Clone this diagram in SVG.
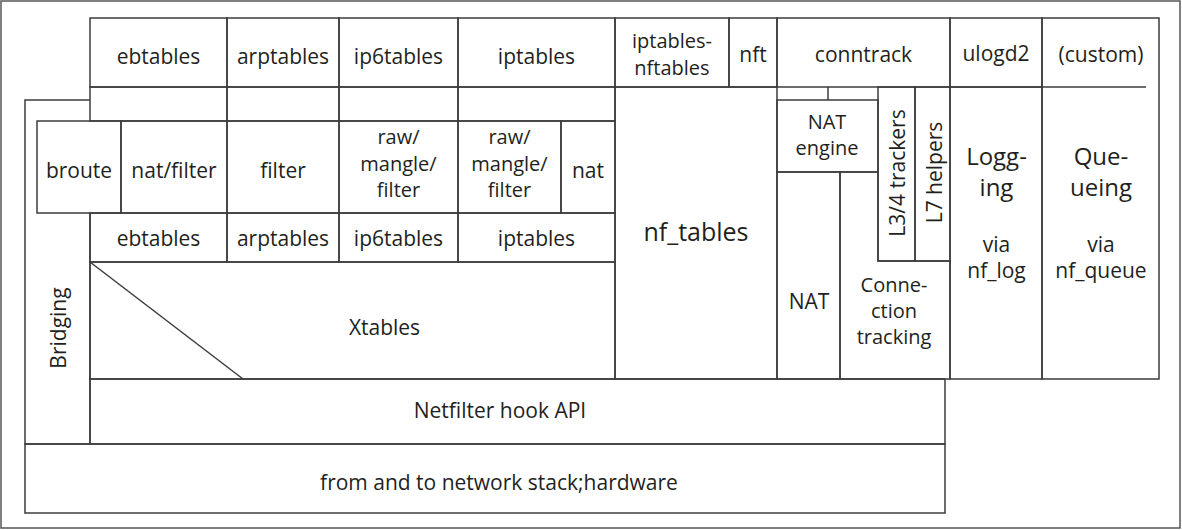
<svg xmlns="http://www.w3.org/2000/svg" width="1182" height="530" viewBox="0 0 1182 530">
<style>
.c{fill:none;stroke:#3c3c3c;stroke-width:1.5}
.t{font-family:"Open Sans","Liberation Sans",sans-serif;font-size:21px;fill:#231f20;text-anchor:middle}
.b{font-size:24px}
.s{font-size:20px}
</style>
<rect x="0" y="0" width="1182" height="530" fill="#fff"/>
<rect id="frame" x="1" y="1" width="1179" height="527" fill="none" stroke="#555" stroke-width="1.5"/>
<g id="connectors">
<line class="c" x1="90" y1="262" x2="243" y2="379"/>
</g>
<g id="top-ebtables"><rect class="c" x="90" y="18" width="137" height="69"/><text class="t" x="158.5" y="64">ebtables</text></g>
<g id="top-arptables"><rect class="c" x="227" y="18" width="112" height="69"/><text class="t" x="283" y="64">arptables</text></g>
<g id="top-ip6tables"><rect class="c" x="339" y="18" width="119" height="69"/><text class="t" x="398.5" y="64">ip6tables</text></g>
<g id="top-iptables"><rect class="c" x="458" y="18" width="157" height="69"/><text class="t" x="536.5" y="64">iptables</text></g>
<g id="top-iptables-nftables"><rect class="c" x="615" y="18" width="114" height="69"/><text class="t s" x="672" y="48">iptables-</text><text class="t s" x="672" y="75">nftables</text></g>
<g id="top-nft"><rect class="c" x="729" y="18" width="48" height="69"/><text class="t" x="753" y="62">nft</text></g>
<g id="top-conntrack"><rect class="c" x="777" y="18" width="173" height="69"/><text class="t" x="863.5" y="62">conntrack</text></g>
<g id="top-ulogd2"><rect class="c" x="950" y="18" width="92" height="69"/><text class="t" x="996" y="61">ulogd2</text></g>
<g id="top-custom"><path class="c" d="M1042,87 V18 H1159 V87"/><text class="t" x="1101" y="62">(custom)</text></g>
<g id="row2">
<rect class="c" x="90" y="87" width="137" height="34"/>
<rect class="c" x="227" y="87" width="112" height="34"/>
<rect class="c" x="339" y="87" width="119" height="34"/>
<rect class="c" x="458" y="87" width="157" height="34"/>
</g>
<g id="bridging"><path class="c" d="M90,100 H25 V444 H90 V213"/><text class="t" transform="translate(66,328) rotate(-90)">Bridging</text></g>
<g id="broute"><rect class="c" x="37" y="121" width="84" height="92"/><text class="t" x="79" y="178">broute</text></g>
<g id="natfilter"><rect class="c" x="121" y="121" width="106" height="92"/><text class="t" x="174" y="178">nat/filter</text></g>
<g id="filter"><rect class="c" x="227" y="121" width="112" height="92"/><text class="t" x="283" y="178">filter</text></g>
<g id="rmf6"><rect class="c" x="339" y="121" width="119" height="92"/><text class="t s" x="398.5" y="144">raw/</text><text class="t s" x="398.5" y="170.5">mangle/</text><text class="t s" x="398.5" y="197">filter</text></g>
<g id="rmf4"><rect class="c" x="458" y="121" width="103" height="92"/><text class="t s" x="509.5" y="144">raw/</text><text class="t s" x="509.5" y="170.5">mangle/</text><text class="t s" x="509.5" y="197">filter</text></g>
<g id="nat4"><rect class="c" x="561" y="121" width="54" height="92"/><text class="t" x="588" y="178">nat</text></g>
<g id="k-ebtables"><rect class="c" x="90" y="213" width="137" height="49"/><text class="t" x="158.5" y="246">ebtables</text></g>
<g id="k-arptables"><rect class="c" x="227" y="213" width="112" height="49"/><text class="t" x="283" y="246">arptables</text></g>
<g id="k-ip6tables"><rect class="c" x="339" y="213" width="119" height="49"/><text class="t" x="398.5" y="246">ip6tables</text></g>
<g id="k-iptables"><rect class="c" x="458" y="213" width="157" height="49"/><text class="t" x="536.5" y="246">iptables</text></g>
<g id="xtables"><rect class="c" x="90" y="262" width="525" height="117"/><text class="t" x="384.5" y="335">Xtables</text></g>
<g id="nf_tables"><rect class="c" x="615" y="87" width="162" height="292"/><text class="t" style="font-size:25px" x="696" y="241">nf_tables</text></g>
<g id="conntrack-top"><line class="c" x1="828" y1="87" x2="828" y2="100"/></g>
<g id="nat-engine"><rect class="c" x="777" y="100" width="101" height="72"/><text class="t s" x="827" y="129">NAT</text><text class="t s" x="827" y="155">engine</text></g>
<g id="l34"><rect class="c" x="878" y="87" width="37" height="174"/><text class="t" transform="translate(905,173) rotate(-90)">L3/4 trackers</text></g>
<g id="l7"><rect class="c" x="915" y="87" width="35" height="174"/><text class="t" transform="translate(941.5,172.5) rotate(-90)">L7 helpers</text></g>
<g id="nat"><rect class="c" x="777" y="172" width="63" height="207"/><text class="t" x="809" y="309">NAT</text></g>
<g id="conn-tracking"><path class="c" d="M840,172 H878 V261 H950 V379 H840 Z"/><text class="t s" x="894" y="292">Conne-</text><text class="t s" x="894" y="318">ction</text><text class="t s" x="894" y="344">tracking</text></g>
<g id="logging"><rect class="c" x="950" y="87" width="92" height="292"/><text class="t b" x="996.5" y="165">Logg-</text><text class="t b" x="996.5" y="196">ing</text><text class="t" x="996.5" y="252">via</text><text class="t" x="996.5" y="278">nf_log</text></g>
<g id="queueing"><path class="c" d="M1146,87 H1042 V379 H1159 V87"/><text class="t b" x="1101" y="165">Que-</text><text class="t b" x="1101" y="196">ueing</text><text class="t" x="1101" y="252">via</text><text class="t" x="1101" y="278">nf_queue</text></g>
<g id="hook-api"><rect class="c" x="90" y="379" width="855" height="65"/><text class="t" x="500" y="418">Netfilter hook API</text></g>
<g id="stack"><rect class="c" x="25" y="444" width="920" height="69"/><text class="t" x="499" y="490">from and to network stack;hardware</text></g>
</svg>
